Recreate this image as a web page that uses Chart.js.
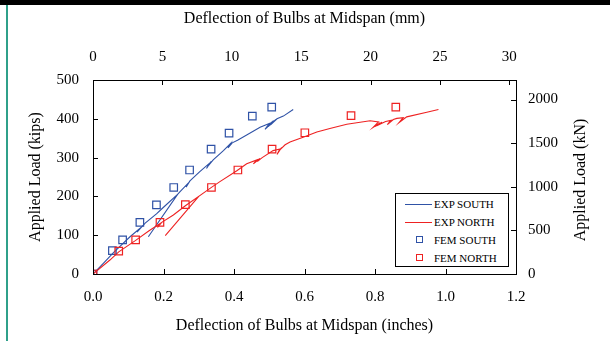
<!DOCTYPE html>
<html>
<head>
<meta charset="utf-8">
<script src="https://cdn.jsdelivr.net/npm/chart.js@4.4.1/dist/chart.umd.min.js"></script>
<style>
  html, body { margin: 0; padding: 0; background: #fff; }
  #wrap { position: relative; width: 610px; height: 341px; overflow: hidden; background: #fff; }
  #topbar { position: absolute; left: 0; top: 0; width: 610px; height: 5px; background: #000; }
  #leftbar { position: absolute; left: 6px; top: 5px; width: 2px; height: 336px; background: #2fa08a; }
  canvas { position: absolute; left: 0; top: 0; }
  #legend { position: absolute; left: 395px; top: 193px; width: 112px; height: 72px; border: 1px solid #000; background: #fff;
            font-family: "Liberation Serif", "Times New Roman", serif; font-size: 11px; color: #000; }
  .row { position: absolute; left: 0; height: 14px; width: 112px; }
  .row .txt { position: absolute; left: 38px; top: 0; line-height: 14px; white-space: nowrap; }
  .row .ln { position: absolute; left: 9px; top: 7px; width: 27px; height: 1px; }
  .row .sq { position: absolute; left: 20px; top: 3px; width: 5px; height: 5px; border: 1px solid; background: transparent; }
</style>
</head>
<body>
<div id="wrap">
  <div id="topbar"></div>
  <div id="leftbar"></div>
  <canvas id="c" width="610" height="341"></canvas>
  <div id="legend"></div>
</div>
<script>
// ---- data (deflection in inches, load in kips) ----
const expSouthX = [0, 0.03, 0.058, 0.105, 0.13, 0.125, 0.135, 0.148, 0.18, 0.2, 0.24, 0.157, 0.24, 0.247, 0.268, 0.264, 0.275, 0.303, 0.33, 0.322, 0.335, 0.328, 0.341, 0.37, 0.39, 0.383, 0.395, 0.41, 0.436, 0.474, 0.5, 0.488, 0.508, 0.492, 0.512, 0.497, 0.518, 0.503, 0.522, 0.54, 0.568];
const expSouthY = [0, 28, 55, 96, 115, 108, 118, 131, 155, 172, 205, 96, 205, 212, 232, 224, 240, 264, 285, 272, 290, 280, 294, 318, 336, 325, 338, 345, 358, 378, 388, 373, 392, 376, 395, 380, 398, 384, 400, 407, 424];

const expNorthX = [0, 0.048, 0.073, 0.12, 0.16, 0.19, 0.183, 0.195, 0.228, 0.262, 0.3, 0.205, 0.3, 0.337, 0.36, 0.408, 0.436, 0.465, 0.455, 0.474, 0.466, 0.48, 0.511, 0.53, 0.522, 0.535, 0.528, 0.545, 0.559, 0.6, 0.635, 0.672, 0.72, 0.786, 0.81, 0.795, 0.815, 0.8, 0.82, 0.805, 0.83, 0.845, 0.835, 0.852, 0.862, 0.88, 0.868, 0.89, 0.947, 0.98];
const expNorthY = [0, 36, 57, 86, 112, 130, 120, 133, 152, 176, 200, 99, 200, 224, 238, 266, 284, 294, 284, 298, 290, 300, 318, 322, 308, 326, 318, 333, 340, 354, 366, 375, 386, 395, 392, 378, 390, 380, 391, 382, 393, 396, 385, 398, 401, 403, 390, 405, 417, 424];

const femSouthX = [0, 0.055, 0.084, 0.133, 0.180, 0.229, 0.274, 0.335, 0.386, 0.452, 0.507];
const femSouthY = [0, 60, 88, 133, 178, 223, 268, 322, 363, 407, 430];

const femNorthX = [0, 0.073, 0.121, 0.190, 0.262, 0.336, 0.411, 0.508, 0.601, 0.732, 0.859];
const femNorthY = [0, 59, 88, 133, 179, 223, 268, 322, 364, 408, 430];

const seriesNames = ['EXP SOUTH', 'EXP NORTH', 'FEM SOUTH', 'FEM NORTH'];
const inchTicks = [0, 0.2, 0.4, 0.6, 0.8, 1.0, 1.2];
const mmTicks = [0, 5, 10, 15, 20, 25, 30];
const kipTicks = [0, 100, 200, 300, 400, 500];
const kNTicks = [0, 500, 1000, 1500, 2000];

const IN_TO_MM = 25.4;
const KIP_TO_KN = 4.448222;

const BLUE = '#2f52a6';
const RED = '#ee2222';
const FONT = '"Liberation Serif", "Times New Roman", serif';

function pts(xs, ys) { return xs.map((x, i) => ({ x: x, y: ys[i] })); }
function fixed(arr) { return function (scale) { scale.ticks = arr.map(v => ({ value: v })); }; }

const tickFont = { family: FONT, size: 15 };
const titleFont = { family: FONT, size: 16 };

const inwardTicks = {
  id: 'inwardTicks',
  afterDraw(chart) {
    const ctx = chart.ctx, a = chart.chartArea, L = 5;
    ctx.save();
    ctx.strokeStyle = '#000';
    ctx.lineWidth = 1;
    ctx.beginPath();
    const s = chart.scales;
    s.x.ticks.forEach(t => { const p = Math.round(s.x.getPixelForValue(t.value)) + 0.5; ctx.moveTo(p, a.bottom); ctx.lineTo(p, a.bottom - L); });
    s.x2.ticks.forEach(t => { const p = Math.round(s.x2.getPixelForValue(t.value)) + 0.5; ctx.moveTo(p, a.top); ctx.lineTo(p, a.top + L); });
    s.y.ticks.forEach(t => { const p = Math.round(s.y.getPixelForValue(t.value)) + 0.5; ctx.moveTo(a.left, p); ctx.lineTo(a.left + L, p); });
    s.y2.ticks.forEach(t => { const p = Math.round(s.y2.getPixelForValue(t.value)) + 0.5; ctx.moveTo(a.right, p); ctx.lineTo(a.right - L, p); });
    ctx.stroke();
    // right axis title, reading bottom to top
    const rt = chart.options.scales.y2.title;
    ctx.translate(581, (a.top + a.bottom) / 2 + 3);
    ctx.rotate(-Math.PI / 2);
    ctx.fillStyle = '#000';
    ctx.font = '16px ' + FONT;
    ctx.textAlign = 'center';
    ctx.textBaseline = 'middle';
    ctx.fillText(rt.text, 0, 0);
    ctx.restore();
  }
};

const chart = new Chart(document.getElementById('c'), {
  type: 'scatter',
  data: {
    datasets: [
      { label: seriesNames[0], data: pts(expSouthX, expSouthY), showLine: true, borderColor: BLUE, borderWidth: 1.1, pointRadius: 0, fill: false, tension: 0, order: 3 },
      { label: seriesNames[1], data: pts(expNorthX, expNorthY), showLine: true, borderColor: RED, borderWidth: 1.1, pointRadius: 0, fill: false, tension: 0, order: 2 },
      { label: seriesNames[2], data: pts(femSouthX, femSouthY), showLine: false, pointStyle: 'rect', pointRadius: 5.3, borderColor: BLUE, backgroundColor: 'rgba(0,0,0,0)', pointBorderWidth: 1.2, order: 1 },
      { label: seriesNames[3], data: pts(femNorthX, femNorthY), showLine: false, pointStyle: 'rect', pointRadius: 5.3, borderColor: RED, backgroundColor: 'rgba(0,0,0,0)', pointBorderWidth: 1.2, order: 0 }
    ]
  },
  options: {
    responsive: false,
    animation: false,
    devicePixelRatio: 1,
    layout: { padding: 0 },
    plugins: { legend: { display: false }, tooltip: { enabled: false } },
    scales: {
      x: {
        type: 'linear', position: 'bottom', min: 0, max: 1.2,
        afterBuildTicks: fixed(inchTicks),
        afterFit(sc) { sc.height = 67; },
        grid: { display: false, drawTicks: false },
        border: { display: true, color: '#000', width: 1 },
        ticks: { color: '#000', font: tickFont, padding: 14, maxRotation: 0, callback: v => v.toFixed(1) },
        title: { display: true, text: 'Deflection of Bulbs at Midspan (inches)', color: '#000', font: titleFont, padding: { top: 0, bottom: 6 } }
      },
      x2: {
        type: 'linear', position: 'top', min: 0, max: 1.2 * IN_TO_MM,
        afterBuildTicks: fixed(mmTicks),
        afterFit(sc) { sc.height = 80; },
        grid: { display: false, drawTicks: false },
        border: { display: true, color: '#000', width: 1 },
        ticks: { color: '#000', font: tickFont, padding: 14, maxRotation: 0, callback: v => String(v) },
        title: { display: true, text: 'Deflection of Bulbs at Midspan (mm)', color: '#000', font: titleFont, padding: { top: 9, bottom: 0 } }
      },
      y: {
        type: 'linear', position: 'left', min: 0, max: 500,
        afterBuildTicks: fixed(kipTicks),
        afterFit(sc) { sc.width = 93; },
        grid: { display: false, drawTicks: false },
        border: { display: true, color: '#000', width: 1 },
        ticks: { color: '#000', font: tickFont, padding: 14, callback: v => String(v) },
        title: { display: true, text: 'Applied Load (kips)', color: '#000', font: titleFont, padding: { top: 26, bottom: 0 } }
      },
      y2: {
        type: 'linear', position: 'right', min: 0, max: 500 * KIP_TO_KN,
        afterBuildTicks: fixed(kNTicks),
        afterFit(sc) { sc.width = 94; },
        grid: { display: false, drawTicks: false },
        border: { display: true, color: '#000', width: 1 },
        ticks: { color: '#000', font: tickFont, padding: 12, callback: v => String(v) },
        title: { display: false, text: 'Applied Load (kN)' }
      }
    }
  },
  plugins: [inwardTicks]
});

// HTML legend built from the datasets
(function () {
  const lg = document.getElementById('legend');
  const tops = [3, 21, 39, 57];
  chart.data.datasets.forEach((ds, i) => {
    const row = document.createElement('div');
    row.className = 'row';
    row.style.top = tops[i] + 'px';
    const mark = document.createElement('div');
    if (ds.showLine) { mark.className = 'ln'; mark.style.background = ds.borderColor; }
    else { mark.className = 'sq'; mark.style.borderColor = ds.borderColor; }
    const t = document.createElement('div');
    t.className = 'txt';
    t.textContent = ds.label;
    row.appendChild(mark);
    row.appendChild(t);
    lg.appendChild(row);
  });
})();
</script>
</body>
</html>
